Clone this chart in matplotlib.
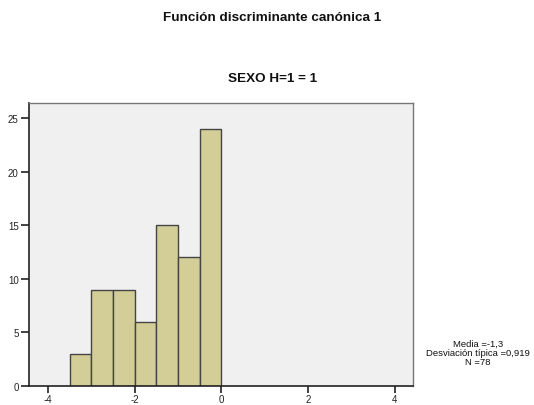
import numpy as np
import matplotlib.pyplot as plt

plt.rcParams['font.family'] = ['Liberation Sans', 'DejaVu Sans']

# bins of width 0.5 and counts
bin_edges = [-3.5, -3.0, -2.5, -2.0, -1.5, -1.0, -0.5, 0.0]
counts = [3, 9, 9, 6, 15, 12, 24]
x_ticks = [-4, -2, 0, 2, 4]
y_ticks = [0, 5, 10, 15, 20, 25]
stats_lines = ["Media =-1,3", "Desviación típica =0,919", "N =78"]

fig = plt.figure(figsize=(5.34, 4.06), dpi=100)
ax = fig.add_axes([0.0543, 0.0468, 0.7191, 0.697])
ax.set_facecolor('#f0f0f0')

lefts = np.array(bin_edges[:-1])
widths = np.diff(bin_edges)
ax.bar(lefts, counts, width=widths, align='edge', color='#d3ce97',
       edgecolor='#444444', linewidth=1.0)

ax.set_xlim(-4.44, 4.42)
ax.set_ylim(0, 26.4)
ax.set_xticks(x_ticks)
ax.set_xticklabels([str(t) for t in x_ticks])
ax.set_yticks(y_ticks)
ax.set_yticklabels([str(t) for t in y_ticks])
ax.tick_params(direction='out', length=6, width=1.2, colors='#222222',
               labelsize=7)
ax.tick_params(axis='x', length=5, pad=0.5)
ax.tick_params(axis='y', pad=1.5)

for side in ['left', 'bottom']:
    ax.spines[side].set_color('#222222')
    ax.spines[side].set_linewidth(1.2)
for side in ['top', 'right']:
    ax.spines[side].set_color('#777777')
    ax.spines[side].set_linewidth(1.0)

fig.text(0.51, 0.955, "Función discriminante canónica 1", ha='center', va='center',
         fontsize=9.7, fontweight='bold', color='#111111')
fig.text(0.51, 0.805, "SEXO H=1 = 1", ha='center', va='center',
         fontsize=9.7, fontweight='bold', color='#111111')

fig.text(0.895, 0.13, "\n".join(stats_lines), ha='center', va='center',
         fontsize=6.8, linespacing=1.0, color='#111111')

fig.savefig('out.png', dpi=100)
